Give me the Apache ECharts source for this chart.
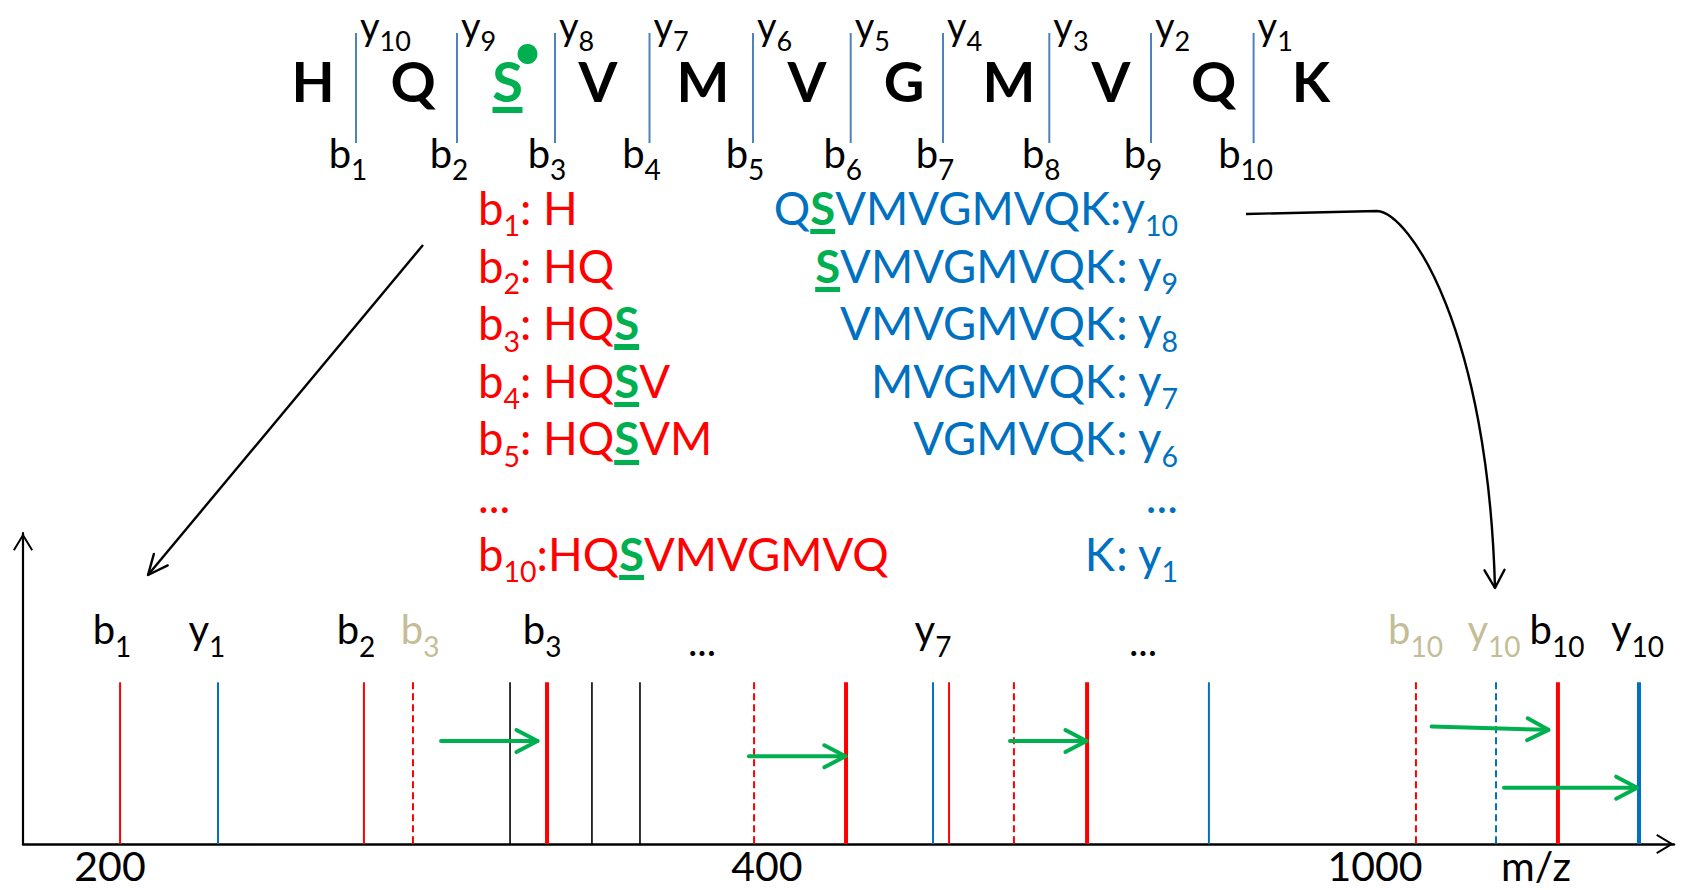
<!DOCTYPE html>
<html><head><meta charset="utf-8">
<script src="https://cdn.jsdelivr.net/npm/echarts@6.0.0/dist/echarts.min.js"></script>
<style>html,body{margin:0;padding:0;background:#fff;}#chart{width:1681px;height:890px;}</style>
</head><body><div id="chart"></div>
<script>
// ---------------- data ----------------
const residues = ['H','Q','S','V','M','V','G','M','V','Q','K'];
const phosphoSite = 2;                       // index of the phosphorylated serine
const bIons = ['1','2','3','4','5','6','7','8','9','10'];
const yIons = ['10','9','8','7','6','5','4','3','2','1'];

const listB    = ['1','2','3','4','5','','10'];
const listBSep = [' ',' ',' ',' ',' ','',''];
const listBSeq = ['H','HQ','HQS','HQSV','HQSVM','...','HQSVMVGMVQ'];
const listYSeq = ['QSVMVGMVQK','SVMVGMVQK','VMVGMVQK','MVGMVQK','VGMVQK','...','K'];
const listYSep = ['',' ',' ',' ',' ','',' '];
const listY    = ['10','9','8','7','6','','1'];

// spectrum (schematic m/z position units 0-1000, relative intensity 0-100)
const peakPos = [58.8,118.1,206.5,236.2,295.0,317.4,344.6,373.7,442.8,498.5,551.2,560.9,600.2,644.5,718.3,843.7,892.2,929.7,978.8];
const peakIntensity = [52,52,52,52,52,52,52,52,52,52,52,52,52,52,52,52,52,52,52];
const peakKind = ['b','y','b','b0','o','bP','o','o','b0','bP','y','b','b0','bP','y','b0','y0','bP','yP'];

const shiftFrom  = [253.2,439.7,597.8,853.2,897.0];
const shiftTo    = [311.6,498.1,644.1,923.9,977.7];
const shiftStart = [33.1,28.2,33.1,37.8,18.1];
const shiftEnd   = [33.1,28.2,33.1,36.7,18.1];

const peakLabelPos = [53.9,111.4,201.7,240.5,314.4,411.3,551.2,678.4,843.4,891.0,929.1,977.9];
const peakLabelIon = ['b','y','b','b','b','...','y','...','b','y','b','y'];
const peakLabelSub = ['1','1','2','3','3','','7','','10','10','10','10'];
const peakLabelTheoretical = [false,false,false,true,false,false,false,false,true,true,false,false];

const tickPos  = [52.7,450.6,818.9];
const tickText = ['200','400','1000'];
const axisTitle = 'm/z';

// ---------------- layout / style ----------------
const F = 'Lato';
const GREEN='#00b050', RED='#ff0000', BLUE='#0070c0', TAN='#c4bd97', SEP='#4f81bd', INK='#000000';
const L = {
  residueX: [313,413,507.5,598,703,807,904,1009,1111,1213.6,1311],
  seqY: 80,
  cleavageX: [356,457,555,649.5,753,850.7,943,1049.3,1151,1253.6],
  sepTop: 33, sepBottom: 143,
  bLabelY: 152.5, bLabelDx: -8,
  yLabelY: 24.5, yLabelDx: 4,
  listLeftX: 478, listRightX: 1178, listTopY: 207.4, listStep: 57.6,
  arrowLeft: [[423,245],[148,575]],
  arrowRight: [[1246,214],[1377,211],[1410,213],[1488,330],[1495,588]],
  peakLabelLevel: 69
};
const peakStyle = {
  b:  {stroke:RED,  lineWidth:2},
  y:  {stroke:BLUE, lineWidth:2},
  o:  {stroke:INK,  lineWidth:1.6},
  b0: {stroke:RED,  lineWidth:2, lineDash:[7,4]},
  y0: {stroke:BLUE, lineWidth:2, lineDash:[7,4]},
  bP: {stroke:RED,  lineWidth:4},
  yP: {stroke:BLUE, lineWidth:4}
};
function underline(color, a, b){
  const t='rgba(255,255,255,0)';
  return {type:'linear',x:0,y:0,x2:0,y2:1,global:false,colorStops:[
    {offset:0,color:t},{offset:a,color:t},{offset:a,color:color},{offset:b,color:color},{offset:b,color:t},{offset:1,color:t}]};
}
function richSet(color, main, sub, subPad){
  return {
    m:{fill:color,fontFamily:F,fontSize:main,lineHeight:main},
    s:{fill:color,fontFamily:F,fontSize:sub,lineHeight:sub,padding:[subPad,0,0,0]},
    d:{fill:color,fontFamily:F,fontSize:main,lineHeight:main,padding:[Math.round(subPad*0.72),0,0,0]},
    p:{fill:GREEN,fontFamily:F,fontWeight:'bold',fontSize:main,lineHeight:main,padding:[9,0,9,0],
       backgroundColor:underline(GREEN,0.84,0.922)}
  };
}
function seqRich(seq){
  if (seq === '...') return '{m|...}';
  let out='', buf='';
  for (const ch of seq){
    if (ch==='S'){ if(buf){out+='{m|'+buf+'}';buf='';} out+='{p|S}'; }
    else buf+=ch;
  }
  if(buf) out+='{m|'+buf+'}';
  return out;
}
function chevron(tip, from, len, half, color, w){
  const dx=tip[0]-from[0], dy=tip[1]-from[1], d=Math.hypot(dx,dy)||1;
  const ux=dx/d, uy=dy/d, nx=-uy, ny=ux;
  const bx=tip[0]-ux*len, by=tip[1]-uy*len;
  return {type:'polyline',shape:{points:[[bx+nx*half,by+ny*half],tip,[bx-nx*half,by-ny*half]]},
          style:{stroke:color,lineWidth:w,fill:null,lineCap:'round',lineJoin:'round'}};
}
const CHEV = 'path://M10,0 L20,16.6 L18.3,17.6 L10,3.8 L1.7,17.6 L0,16.6 Z';

const richLabel = richSet(INK,40,28,33);
const richTop = richSet(INK,38,27,31);
const richTheo = richSet(TAN,40,28,33);
const richRed = richSet(RED,45.5,28.5,36);
const richBlue = richSet(BLUE,45.5,28.5,36);

const option = {
  animation:false,
  backgroundColor:'#ffffff',
  grid:[
    {left:0,right:0,top:0,bottom:0},
    {left:23,right:7,top:533,bottom:46}
  ],
  xAxis:[
    {gridIndex:0,type:'value',min:0,max:1681,show:false},
    {gridIndex:1,type:'value',min:0,max:1000,
      axisLine:{show:true,onZero:false,lineStyle:{color:INK,width:2.5},symbol:['none',CHEV],symbolSize:[20,18],symbolOffset:[0,-9]},
      axisTick:{show:false},splitLine:{show:false},
      axisLabel:{customValues:tickPos,margin:1,fontFamily:F,fontSize:41,lineHeight:41,color:INK,
        formatter:function(v){let k=0,b=1e9;tickPos.forEach((t,i)=>{if(Math.abs(t-v)<b){b=Math.abs(t-v);k=i;}});return tickText[k];}},
      name:axisTitle,nameLocation:'end',nameGap:-138,
      nameTextStyle:{fontFamily:F,fontSize:41,lineHeight:41,color:INK,align:'center',verticalAlign:'top',padding:[1,0,0,0]}
    }
  ],
  yAxis:[
    {gridIndex:0,type:'value',min:0,max:890,inverse:true,show:false},
    {gridIndex:1,type:'value',min:0,max:100,
      axisLine:{show:true,lineStyle:{color:INK,width:2.2},symbol:['none',CHEV],symbolSize:[20,18],symbolOffset:[0,-9]},
      axisTick:{show:false},axisLabel:{show:false},splitLine:{show:false}}
  ],
  series:[
    // peptide sequence
    {type:'custom',name:'sequence',coordinateSystem:'cartesian2d',xAxisIndex:0,yAxisIndex:0,
      data:residues.map((r,i)=>[L.residueX[i],L.seqY]),
      renderItem:function(params,api){
        const i=params.dataIndex, p=api.coord([api.value(0),api.value(1)]);
        const isP=i===phosphoSite;
        const kids=[{type:'text',x:p[0],y:p[1],style:{legacy:false,text:residues[i],fill:isP?GREEN:INK,fontFamily:F,fontWeight:'bold',fontSize:56,align:'center',verticalAlign:'middle'}}];
        if(isP){
          kids.push({type:'rect',shape:{x:p[0]-15,y:p[1]+27,width:30,height:6},style:{fill:GREEN}});
          kids.push({type:'circle',shape:{cx:p[0]+20,cy:p[1]-26,r:10},style:{fill:GREEN}});
        }
        return {type:'group',children:kids};
      }},
    // cleavage sites with b / y ion names
    {type:'custom',name:'cleavage',coordinateSystem:'cartesian2d',xAxisIndex:0,yAxisIndex:0,
      data:bIons.map((b,i)=>[L.cleavageX[i],L.sepTop]),
      renderItem:function(params,api){
        const i=params.dataIndex, x=api.coord([api.value(0),0])[0];
        const yT=api.coord([0,L.sepTop])[1], yB=api.coord([0,L.sepBottom])[1];
        return {type:'group',children:[
          {type:'line',shape:{x1:x,y1:yT,x2:x,y2:yB},style:{stroke:SEP,lineWidth:2}},
          {type:'text',x:x+L.bLabelDx,y:api.coord([0,L.bLabelY])[1],style:{legacy:false,text:'{m|b}{s|'+bIons[i]+'}',rich:richLabel,fill:INK,fontFamily:F,fontSize:40,align:'center',verticalAlign:'middle'}},
          {type:'text',x:x+L.yLabelDx,y:api.coord([0,L.yLabelY])[1],style:{legacy:false,text:'{m|y}{s|'+yIons[i]+'}',rich:richTop,fill:INK,fontFamily:F,fontSize:38,align:'left',verticalAlign:'middle'}}
        ]};
      }},
    // b fragment list
    {type:'custom',name:'bFragments',coordinateSystem:'cartesian2d',xAxisIndex:0,yAxisIndex:0,
      data:listBSeq.map((s,i)=>[L.listLeftX,L.listTopY+i*L.listStep]),
      renderItem:function(params,api){
        const i=params.dataIndex, p=api.coord([api.value(0),api.value(1)]);
        const txt = listB[i] ? '{m|b}{s|'+listB[i]+'}{m|:'+listBSep[i]+'}'+seqRich(listBSeq[i]) : seqRich(listBSeq[i]);
        return {type:'text',x:p[0],y:p[1],style:{legacy:false,text:txt,rich:richRed,fill:RED,fontFamily:F,fontSize:45.5,align:'left',verticalAlign:'middle'}};
      }},
    // y fragment list
    {type:'custom',name:'yFragments',coordinateSystem:'cartesian2d',xAxisIndex:0,yAxisIndex:0,
      data:listYSeq.map((s,i)=>[L.listRightX,L.listTopY+i*L.listStep]),
      renderItem:function(params,api){
        const i=params.dataIndex, p=api.coord([api.value(0),api.value(1)]);
        const txt = seqRich(listYSeq[i]) + (listY[i] ? '{m|:'+listYSep[i]+'y}{s|'+listY[i]+'}' : '');
        return {type:'text',x:p[0],y:p[1],style:{legacy:false,text:txt,rich:richBlue,fill:BLUE,fontFamily:F,fontSize:45.5,align:'right',verticalAlign:'middle'}};
      }},
    // guide arrows
    {type:'custom',name:'guides',coordinateSystem:'cartesian2d',xAxisIndex:0,yAxisIndex:0,
      data:[[0,0],[1,0]],
      renderItem:function(params,api){
        const c=(q)=>api.coord(q);
        if(params.dataIndex===0){
          const a=c(L.arrowLeft[0]), b=c(L.arrowLeft[1]);
          return {type:'group',children:[
            {type:'line',shape:{x1:a[0],y1:a[1],x2:b[0],y2:b[1]},style:{stroke:INK,lineWidth:2.4}},
            chevron(b,a,20,9,INK,2.4)]};
        }
        const P=L.arrowRight.map(c);
        const d='M'+P[0].join(',')+' L'+P[1].join(',')+' C'+P[2].join(',')+' '+P[3].join(',')+' '+P[4].join(',');
        return {type:'group',children:[
          {type:'path',shape:{pathData:d},style:{stroke:INK,lineWidth:2.4,fill:null}},
          chevron(P[4],P[3],18,10,INK,2.4)]};
      }},
    // spectrum peaks
    {type:'custom',name:'peaks',coordinateSystem:'cartesian2d',xAxisIndex:1,yAxisIndex:1,
      data:peakPos.map((x,i)=>[x,peakIntensity[i]]),
      encode:{x:0,y:1},
      renderItem:function(params,api){
        const k=peakKind[params.dataIndex];
        const top=api.coord([api.value(0),api.value(1)]), bot=api.coord([api.value(0),0]);
        return {type:'line',shape:{x1:top[0],y1:top[1],x2:bot[0],y2:bot[1]},style:Object.assign({fill:null},peakStyle[k])};
      }},
    // phospho mass shift arrows
    {type:'custom',name:'shifts',coordinateSystem:'cartesian2d',xAxisIndex:1,yAxisIndex:1,
      data:shiftFrom.map((x,i)=>[x,shiftStart[i],shiftTo[i],shiftEnd[i]]),
      encode:{x:[0,2],y:[1,3]},
      renderItem:function(params,api){
        const a=api.coord([api.value(0),api.value(1)]), b=api.coord([api.value(2),api.value(3)]);
        return {type:'group',children:[
          {type:'line',shape:{x1:a[0],y1:a[1],x2:b[0],y2:b[1]},style:{stroke:GREEN,lineWidth:4,lineCap:'round'}},
          chevron(b,a,21,11,GREEN,4)]};
      }},
    // peak labels
    {type:'custom',name:'peakLabels',coordinateSystem:'cartesian2d',xAxisIndex:1,yAxisIndex:1,
      data:peakLabelPos.map((x,i)=>[x,L.peakLabelLevel]),
      encode:{x:0,y:1},
      renderItem:function(params,api){
        const i=params.dataIndex, p=api.coord([api.value(0),api.value(1)]);
        const txt = peakLabelSub[i] ? '{m|'+peakLabelIon[i]+'}{s|'+peakLabelSub[i]+'}' : '{d|'+peakLabelIon[i]+'}';
        const theo=peakLabelTheoretical[i];
        return {type:'text',x:p[0],y:p[1],style:{legacy:false,text:txt,rich:theo?richTheo:richLabel,fill:theo?TAN:INK,fontFamily:F,fontSize:40,align:'center',verticalAlign:'middle'}};
      }}
  ]
};
const chart = echarts.init(document.getElementById('chart'), null, {renderer:'svg', width:1681, height:890});
chart.setOption(option);
</script></body></html>
